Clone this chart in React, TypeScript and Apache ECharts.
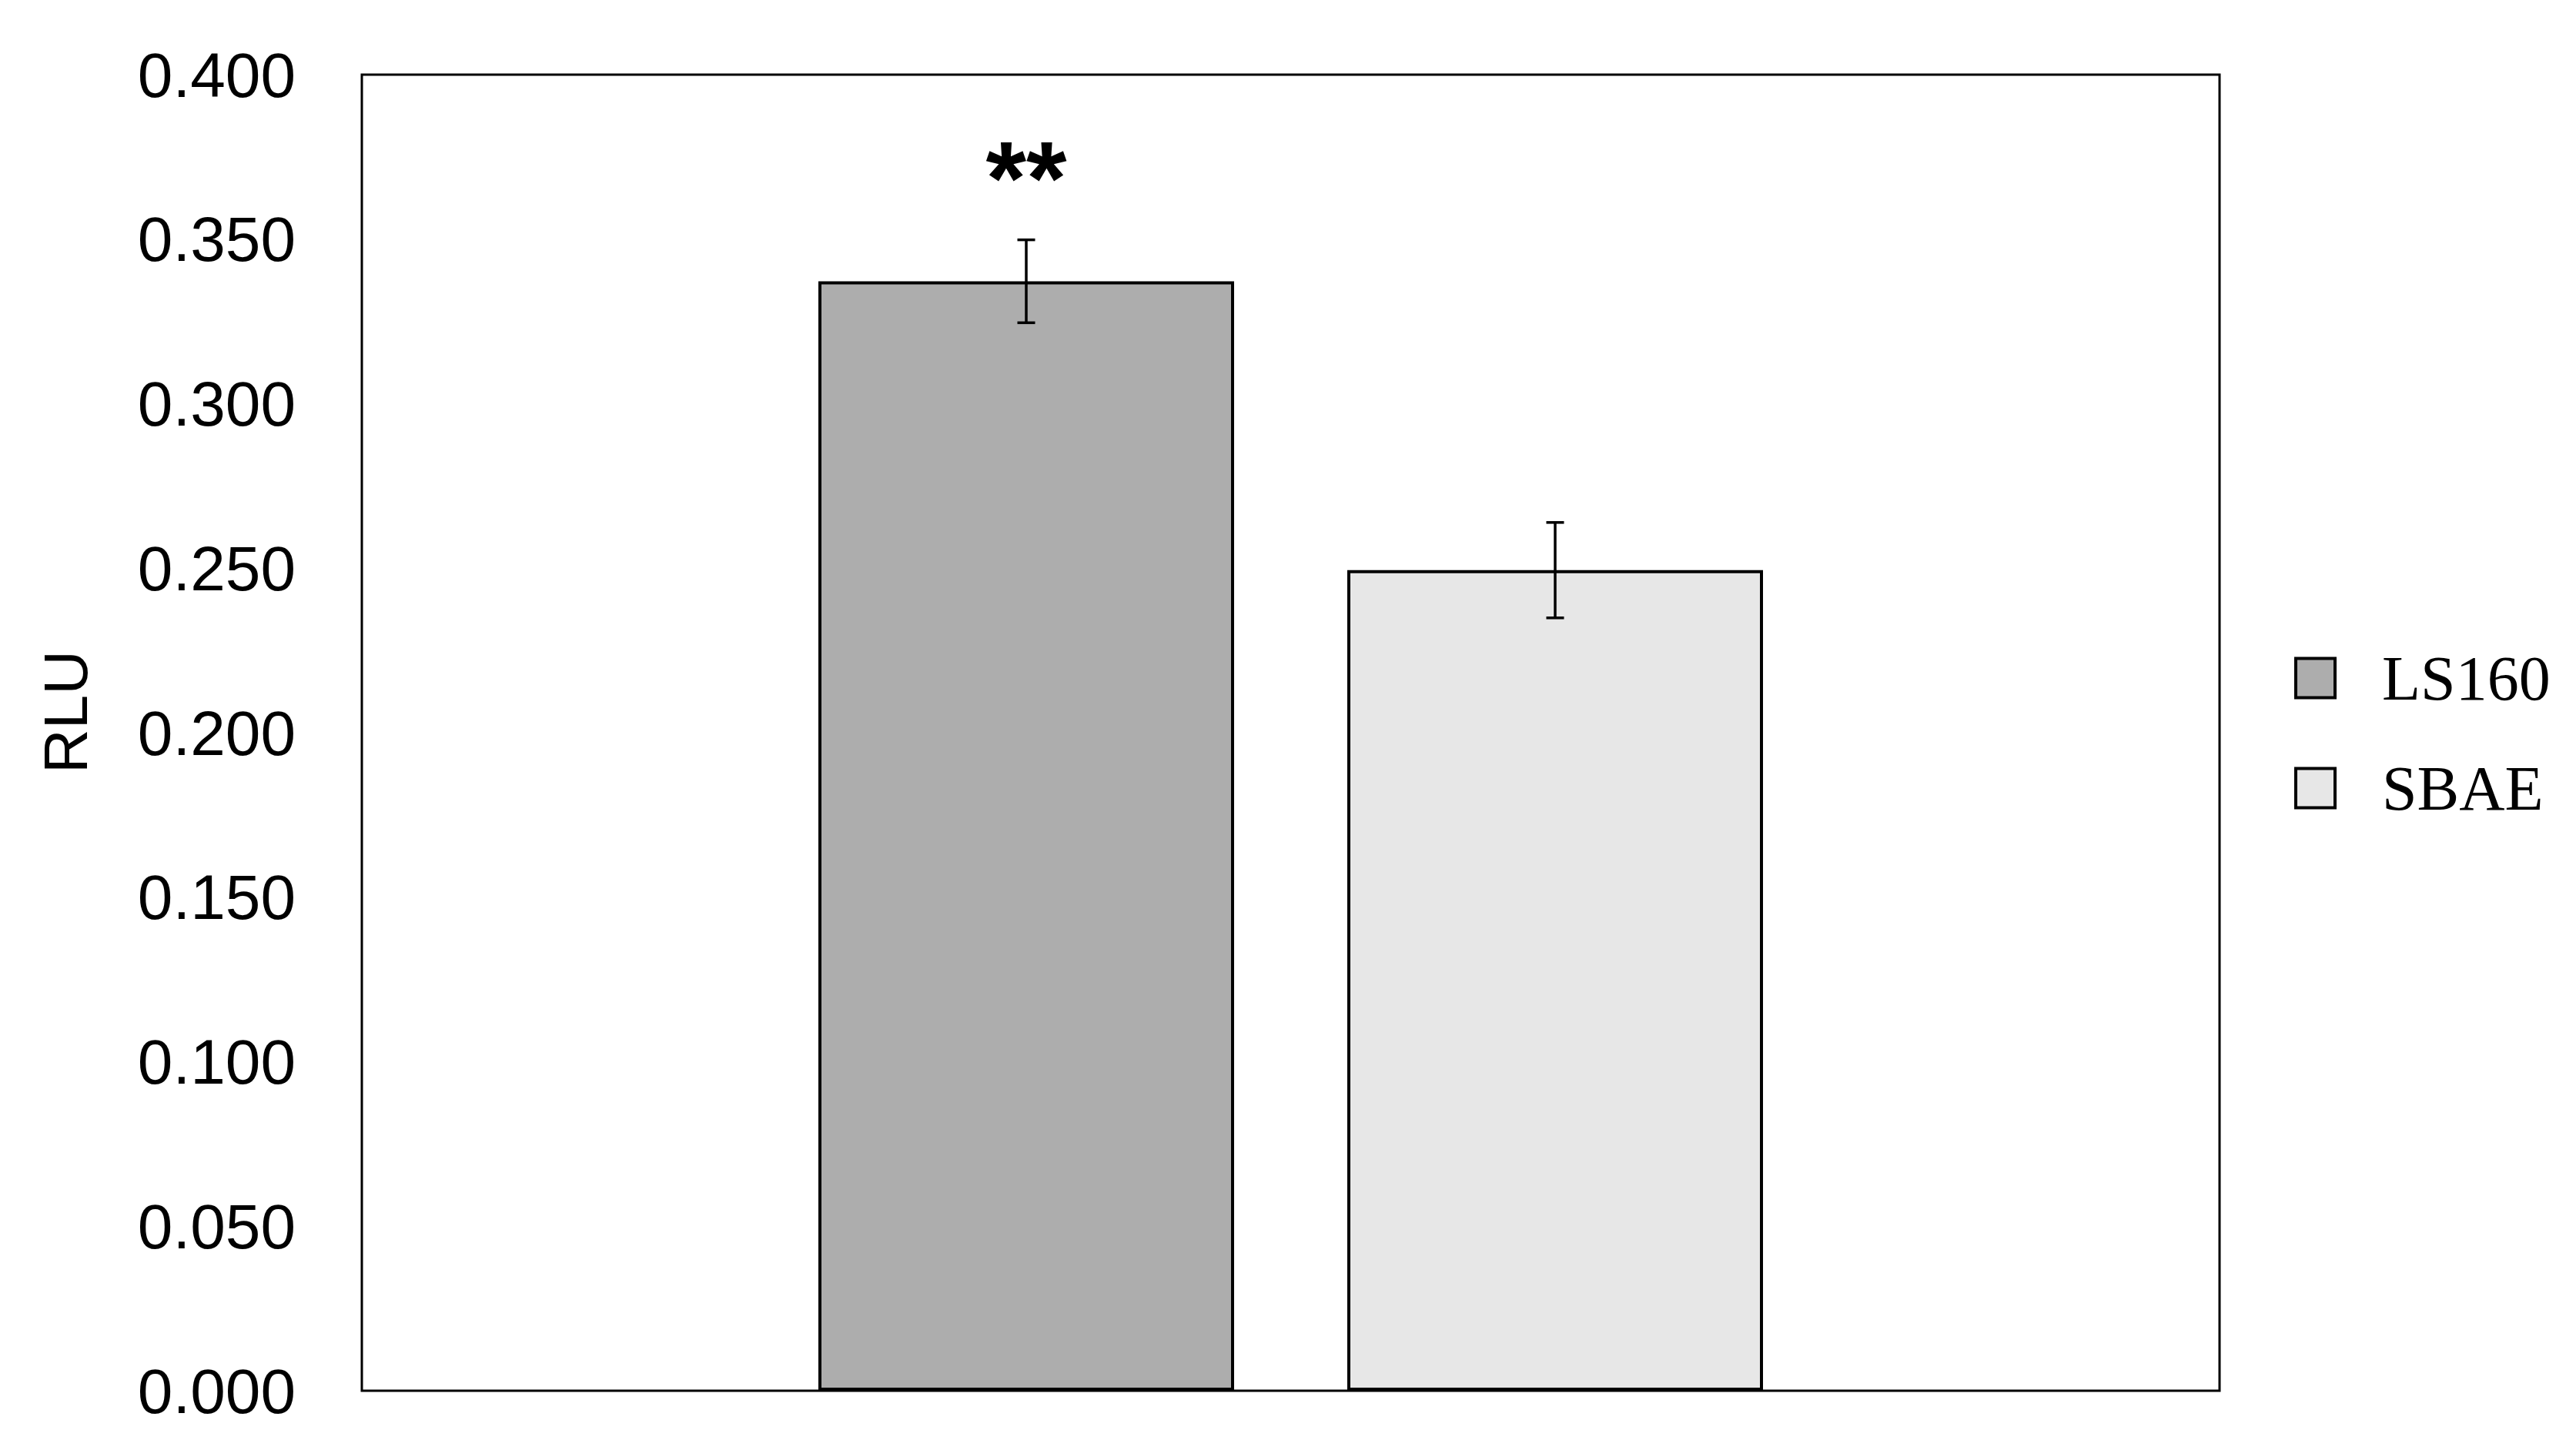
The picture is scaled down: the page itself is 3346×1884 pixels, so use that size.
import React, { useEffect, useRef } from "react";
import * as echarts from "echarts";

const seriesNames = ["LS160", "SBAE"];
const means = [0.3372, 0.2494];
const errors = [0.0126, 0.0145];
const colors = ["#adadad", "#e7e7e7"];
const yTicks = { min: 0, max: 0.4, interval: 0.05 };
const significance = ["**", ""];
const axisTitle = "RLU";

export default function App() {
  const ref = useRef<HTMLDivElement>(null);
  useEffect(() => {
    document.body.style.margin = "0";
    const chart = echarts.init(ref.current!, null, { renderer: "svg" });
    const barSeries = seriesNames.map((name, i) => ({
      name,
      type: "bar",
      xAxisIndex: 1,
      yAxisIndex: 1,
      data: means.map((m, j) => (j === i ? m : "-")),
      barWidth: 540,
      barGap: "-100%",
      itemStyle: { color: colors[i], borderColor: "#000", borderWidth: 4 },
      label: {
        show: significance[i] !== "",
        position: "top",
        distance: 66,
        formatter: significance[i],
        fontFamily: "Liberation Sans",
        fontWeight: "bold",
        fontSize: 135,
        color: "#000",
      },
    }));
    const option = {
      animation: false,
      backgroundColor: "#fff",
      grid: [
        { left: 470, top: 97, width: 2413, height: 1710, show: true, borderColor: "#000", borderWidth: 3, backgroundColor: "transparent" },
        { left: 989.5, top: 97, width: 1374, height: 1710 },
      ],
      xAxis: [
        { type: "category", gridIndex: 0, data: [""], show: false },
        { type: "category", gridIndex: 1, data: seriesNames, show: false },
      ],
      yAxis: [
        {
          type: "value",
          gridIndex: 0,
          min: yTicks.min,
          max: yTicks.max,
          interval: yTicks.interval,
          axisLine: { show: false },
          axisTick: { show: false },
          splitLine: { show: false },
          axisLabel: {
            formatter: (v: number) => v.toFixed(3),
            fontFamily: "Liberation Sans",
            fontSize: 82,
            color: "#000",
            margin: 86,
          },
        },
        { type: "value", gridIndex: 1, min: yTicks.min, max: yTicks.max, show: false },
      ],
      legend: {
        orient: "vertical",
        left: 2975,
        top: 835,
        icon: "rect",
        itemWidth: 51,
        itemHeight: 51,
        itemGap: 61,
        data: seriesNames,
        itemStyle: { borderColor: "#000", borderWidth: 4 },
        textStyle: { fontFamily: "Liberation Serif", fontSize: 82, color: "#000", padding: [0, 0, 0, 56] },
      },
      graphic: [
        {
          type: "text",
          x: 85,
          y: 925,
          rotation: Math.PI / 2,
          style: {
            text: axisTitle,
            font: "80px 'Liberation Sans'",
            fill: "#000",
            align: "center",
            verticalAlign: "middle",
          },
        },
      ],
      series: [
        ...barSeries,
        {
          type: "custom",
          xAxisIndex: 1,
          yAxisIndex: 1,
          data: means.map((m, i) => [i, m, errors[i]]),
          z: 10,
          renderItem: (params: any, api: any) => {
            const x = api.value(0);
            const m = api.value(1);
            const e = api.value(2);
            const hi = api.coord([x, m + e]);
            const lo = api.coord([x, m - e]);
            const hw = 11.5;
            const style = { stroke: "#000", lineWidth: 3.5 };
            return {
              type: "group",
              children: [
                { type: "line", shape: { x1: hi[0], y1: hi[1], x2: lo[0], y2: lo[1] }, style },
                { type: "line", shape: { x1: hi[0] - hw, y1: hi[1], x2: hi[0] + hw, y2: hi[1] }, style },
                { type: "line", shape: { x1: lo[0] - hw, y1: lo[1], x2: lo[0] + hw, y2: lo[1] }, style },
              ],
            };
          },
        },
      ],
    };
    chart.setOption(option as any);
    return () => chart.dispose();
  }, []);
  return <div ref={ref} style={{ width: 3346, height: 1884 }} />;
}
